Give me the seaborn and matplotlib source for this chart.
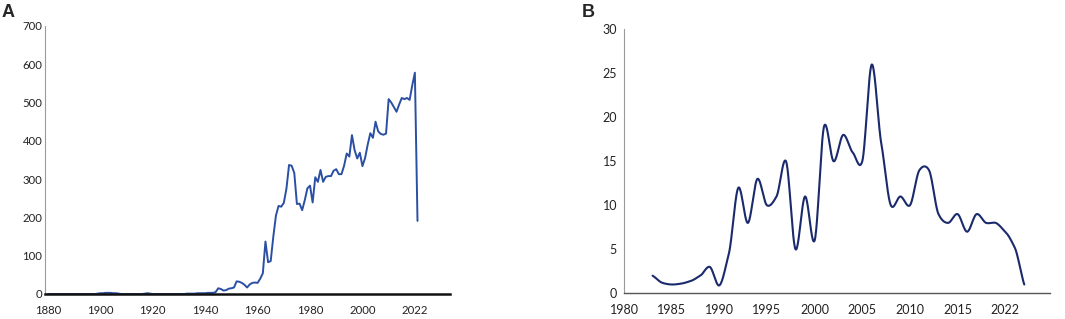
import numpy as np
import pandas as pd
import seaborn as sns
import matplotlib.pyplot as plt

# Painel A: producao anual (1880-2021)
anos_a = list(range(1880, 2022))
valores_a = (
    [0] * 19                                   # 1880-1898
    + [1, 2, 2, 3, 3, 3, 2, 2, 1]              # 1899-1907
    + [0] * 9                                  # 1908-1916
    + [1, 2, 1]                                # 1917-1919
    + [0] * 13                                 # 1920-1932
    + [1, 1, 1, 1, 2, 2, 2, 2, 3, 3]           # 1933-1942
    + [3, 5, 15, 13, 9, 10, 14, 15, 17, 33,    # 1943-1952
       32, 29, 24, 17, 25, 29, 30, 29, 40, 54,  # 1953-1962
       137, 83, 86, 150, 205, 230, 228, 238, 275, 337,  # 1963-1972
       335, 316, 235, 236, 219, 245, 276, 283, 239, 305,  # 1973-1982
       293, 324, 293, 306, 308, 308, 322, 326, 313, 313,  # 1983-1992
       335, 367, 359, 415, 376, 354, 369, 334, 355, 390,  # 1993-2002
       420, 408, 450, 425, 418, 416, 419, 509, 500, 488,  # 2003-2012
       476, 495, 512, 509, 512, 507, 545, 578, 191]       # 2013-2021
)
ticks_a = [1880, 1900, 1920, 1940, 1960, 1980, 2000, 2020]
rotulos_a = ['1880', '1900', '1920', '1940', '1960', '1980', '2000', '2022']

# Painel B: publicacoes por ano (1983-2022)
anos_b = list(range(1983, 2023))
valores_b = [2, 1.2, 1, 1.1, 1.4, 2, 3, 0.9, 4.5, 12,
             8, 13, 10, 11, 15, 5, 11, 6, 19, 15,
             18, 16, 15, 26, 17, 10, 11, 10, 14, 14,
             9, 8, 9, 7, 9, 8, 8, 7, 5.2, 1]
ticks_b = [1980, 1985, 1990, 1995, 2000, 2005, 2010, 2015, 2020]
rotulos_b = ['1980', '1985', '1990', '1995', '2000', '2005', '2010', '2015', '2022']


def suavizar(x, y, passos=25, k=0.75):
    # curva suave tipo Catmull-Rom (linha suavizada do painel B)
    x = np.asarray(x, float)
    y = np.asarray(y, float)
    m = np.zeros_like(y)
    m[1:-1] = k * (y[2:] - y[:-2]) / 2
    m[0] = k * (y[1] - y[0])
    m[-1] = k * (y[-1] - y[-2])
    xs, ys = [], []
    t = np.linspace(0, 1, passos, endpoint=False)
    for i in range(len(x) - 1):
        h00 = 2 * t**3 - 3 * t**2 + 1
        h10 = t**3 - 2 * t**2 + t
        h01 = -2 * t**3 + 3 * t**2
        h11 = t**3 - t**2
        xs.extend(x[i] + t * (x[i + 1] - x[i]))
        ys.extend(h00 * y[i] + h10 * m[i] + h01 * y[i + 1] + h11 * m[i + 1])
    xs.append(x[-1])
    ys.append(y[-1])
    return np.array(xs), np.array(ys)


sns.set_style('white')
plt.rcParams['font.family'] = ['Lato', 'DejaVu Sans']

fig = plt.figure(figsize=(10.65, 3.19), dpi=100)

# ---- Painel A
ax_a = fig.add_axes([45 / 1065, 1 - 294 / 319, 405 / 1065, 268 / 319])
df_a = pd.DataFrame({'ano': anos_a, 'valor': valores_a})
sns.lineplot(data=df_a, x='ano', y='valor', color='#2a4fa3', linewidth=1.4, ax=ax_a)
ax_a.set_xlim(1878.9, 2033.4)
ax_a.set_ylim(0, 700)
ax_a.set_xticks(ticks_a)
ax_a.set_xticklabels(rotulos_a)
ax_a.set_yticks(range(0, 701, 100))
ax_a.set_xlabel('')
ax_a.set_ylabel('')
ax_a.tick_params(axis='x', length=0, pad=8, labelsize=8.2, colors='#222222')
ax_a.tick_params(axis='y', length=0, pad=2, labelsize=8.2, colors='#222222')
for s in ['top', 'right']:
    ax_a.spines[s].set_visible(False)
ax_a.spines['left'].set_color('#9a9a9a')
ax_a.spines['left'].set_linewidth(0.8)
ax_a.spines['bottom'].set_color('#111111')
ax_a.spines['bottom'].set_linewidth(1.8)
ax_a.spines['bottom'].set_zorder(3)

# ---- Painel B
ax_b = fig.add_axes([624 / 1065, 1 - 293.3 / 319, 426 / 1065, 264 / 319])
xs, ys = suavizar(anos_b, valores_b)
df_b = pd.DataFrame({'ano': xs, 'valor': ys})
sns.lineplot(data=df_b, x='ano', y='valor', color='#1a2a6c', linewidth=1.5,
             sort=False, ax=ax_b)
ax_b.set_xlim(1980, 2024.7)
ax_b.set_ylim(0, 30)
ax_b.set_xticks(ticks_b)
ax_b.set_xticklabels(rotulos_b)
ax_b.set_yticks(range(0, 31, 5))
ax_b.set_xlabel('')
ax_b.set_ylabel('')
ax_b.tick_params(axis='x', length=0, pad=8, labelsize=9, colors='#222222')
ax_b.tick_params(axis='y', length=0, pad=5, labelsize=9, colors='#222222')
for s in ['top', 'right']:
    ax_b.spines[s].set_visible(False)
ax_b.spines['left'].set_color('#9a9a9a')
ax_b.spines['left'].set_linewidth(0.8)
ax_b.spines['bottom'].set_color('#555555')
ax_b.spines['bottom'].set_linewidth(1.0)

# letras dos paineis
fig.text(2 / 1065, 1 - 4 / 319, 'A', fontsize=13, fontweight='bold',
         family=['Liberation Sans', 'DejaVu Sans'], va='top', ha='left')
fig.text(582 / 1065, 1 - 4 / 319, 'B', fontsize=13, fontweight='bold',
         family=['Liberation Sans', 'DejaVu Sans'], va='top', ha='left')

plt.savefig('out.png', dpi=100)
plt.close()
